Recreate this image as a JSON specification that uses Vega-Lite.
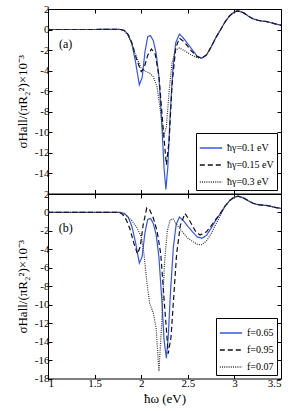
{
  "$schema": "https://vega.github.io/schema/vega-lite/v6.json",
  "autosize": {"type": "pad"},
  "padding": {"left": 15, "top": 2, "right": 0, "bottom": 0},
  "bounds": "flush",
  "spacing": 0,
  "config": {
    "font": "Liberation Serif",
    "view": {"stroke": "black", "strokeWidth": 1},
    "axis": {"grid": false, "domain": false, "tickSize": -4, "tickColor": "black", "labelColor": "black", "labelFontSize": 11, "labelPadding": 3, "titleFontSize": 13, "titleFontWeight": "normal", "titleColor": "black", "labelFont": "Liberation Serif", "titleFont": "Liberation Serif"},
    "legend": {"orient": "bottom-right", "offset": 4, "strokeColor": "black", "fillColor": "white", "padding": 3, "symbolType": "stroke", "symbolSize": 500, "symbolStrokeWidth": 1.4, "labelFontSize": 10, "labelFont": "Liberation Serif", "labelColor": "black", "rowPadding": 0, "cornerRadius": 0}
  },
  "vconcat": [
    {
      "width": 233,
      "height": 184.5,
      "data": {"values": [
        {"s":"ħγ=0.1 eV","x":1.0,"y":0},{"s":"ħγ=0.1 eV","x":1.5,"y":0},{"s":"ħγ=0.1 eV","x":1.7,"y":0.02},{"s":"ħγ=0.1 eV","x":1.78,"y":0},{"s":"ħγ=0.1 eV","x":1.82,"y":-0.1},{"s":"ħγ=0.1 eV","x":1.86,"y":-0.5},{"s":"ħγ=0.1 eV","x":1.9,"y":-1.4},{"s":"ħγ=0.1 eV","x":1.94,"y":-3.2},{"s":"ħγ=0.1 eV","x":1.98,"y":-5.4},{"s":"ħγ=0.1 eV","x":2.01,"y":-4.7},{"s":"ħγ=0.1 eV","x":2.04,"y":-2.2},{"s":"ħγ=0.1 eV","x":2.07,"y":-0.7},{"s":"ħγ=0.1 eV","x":2.1,"y":-0.6},{"s":"ħγ=0.1 eV","x":2.13,"y":-1.1},{"s":"ħγ=0.1 eV","x":2.16,"y":-2.3},{"s":"ħγ=0.1 eV","x":2.19,"y":-4.6},{"s":"ħγ=0.1 eV","x":2.22,"y":-9.0},{"s":"ħγ=0.1 eV","x":2.245,"y":-13.5},{"s":"ħγ=0.1 eV","x":2.265,"y":-15.6},{"s":"ħγ=0.1 eV","x":2.285,"y":-13.5},{"s":"ħγ=0.1 eV","x":2.31,"y":-8.5},{"s":"ħγ=0.1 eV","x":2.34,"y":-3.8},{"s":"ħγ=0.1 eV","x":2.37,"y":-1.3},{"s":"ħγ=0.1 eV","x":2.41,"y":-0.45},{"s":"ħγ=0.1 eV","x":2.45,"y":-0.8},{"s":"ħγ=0.1 eV","x":2.5,"y":-1.4},{"s":"ħγ=0.1 eV","x":2.55,"y":-2.0},{"s":"ħγ=0.1 eV","x":2.6,"y":-2.6},{"s":"ħγ=0.1 eV","x":2.65,"y":-2.8},{"s":"ħγ=0.1 eV","x":2.7,"y":-2.5},{"s":"ħγ=0.1 eV","x":2.75,"y":-1.7},{"s":"ħγ=0.1 eV","x":2.8,"y":-0.8},{"s":"ħγ=0.1 eV","x":2.85,"y":-0.05},{"s":"ħγ=0.1 eV","x":2.9,"y":0.75},{"s":"ħγ=0.1 eV","x":2.95,"y":1.35},{"s":"ħγ=0.1 eV","x":3.0,"y":1.72},{"s":"ħγ=0.1 eV","x":3.04,"y":1.82},{"s":"ħγ=0.1 eV","x":3.1,"y":1.62},{"s":"ħγ=0.1 eV","x":3.15,"y":1.3},{"s":"ħγ=0.1 eV","x":3.2,"y":1.05},{"s":"ħγ=0.1 eV","x":3.25,"y":0.9},{"s":"ħγ=0.1 eV","x":3.3,"y":0.82},{"s":"ħγ=0.1 eV","x":3.35,"y":0.77},{"s":"ħγ=0.1 eV","x":3.4,"y":0.65},{"s":"ħγ=0.1 eV","x":3.45,"y":0.52},{"s":"ħγ=0.1 eV","x":3.5,"y":0.42},
        {"s":"ħγ=0.15 eV","x":1.0,"y":0},{"s":"ħγ=0.15 eV","x":1.5,"y":0},{"s":"ħγ=0.15 eV","x":1.7,"y":0.02},{"s":"ħγ=0.15 eV","x":1.78,"y":0},{"s":"ħγ=0.15 eV","x":1.82,"y":-0.1},{"s":"ħγ=0.15 eV","x":1.86,"y":-0.5},{"s":"ħγ=0.15 eV","x":1.9,"y":-1.3},{"s":"ħγ=0.15 eV","x":1.95,"y":-2.9},{"s":"ħγ=0.15 eV","x":2.0,"y":-4.1},{"s":"ħγ=0.15 eV","x":2.03,"y":-3.8},{"s":"ħγ=0.15 eV","x":2.07,"y":-2.5},{"s":"ħγ=0.15 eV","x":2.11,"y":-1.9},{"s":"ħγ=0.15 eV","x":2.15,"y":-2.4},{"s":"ħγ=0.15 eV","x":2.19,"y":-4.5},{"s":"ħγ=0.15 eV","x":2.23,"y":-9.0},{"s":"ħγ=0.15 eV","x":2.27,"y":-13.2},{"s":"ħγ=0.15 eV","x":2.3,"y":-10.8},{"s":"ħγ=0.15 eV","x":2.33,"y":-5.5},{"s":"ħγ=0.15 eV","x":2.37,"y":-1.8},{"s":"ħγ=0.15 eV","x":2.41,"y":-0.85},{"s":"ħγ=0.15 eV","x":2.46,"y":-1.2},{"s":"ħγ=0.15 eV","x":2.54,"y":-2.1},{"s":"ħγ=0.15 eV","x":2.6,"y":-2.65},{"s":"ħγ=0.15 eV","x":2.65,"y":-2.8},{"s":"ħγ=0.15 eV","x":2.7,"y":-2.5},{"s":"ħγ=0.15 eV","x":2.75,"y":-1.7},{"s":"ħγ=0.15 eV","x":2.8,"y":-0.8},{"s":"ħγ=0.15 eV","x":2.85,"y":-0.05},{"s":"ħγ=0.15 eV","x":2.9,"y":0.75},{"s":"ħγ=0.15 eV","x":2.95,"y":1.35},{"s":"ħγ=0.15 eV","x":3.0,"y":1.72},{"s":"ħγ=0.15 eV","x":3.04,"y":1.82},{"s":"ħγ=0.15 eV","x":3.1,"y":1.62},{"s":"ħγ=0.15 eV","x":3.15,"y":1.3},{"s":"ħγ=0.15 eV","x":3.2,"y":1.05},{"s":"ħγ=0.15 eV","x":3.25,"y":0.9},{"s":"ħγ=0.15 eV","x":3.3,"y":0.82},{"s":"ħγ=0.15 eV","x":3.35,"y":0.77},{"s":"ħγ=0.15 eV","x":3.4,"y":0.65},{"s":"ħγ=0.15 eV","x":3.45,"y":0.52},{"s":"ħγ=0.15 eV","x":3.5,"y":0.42},
        {"s":"ħγ=0.3 eV","x":1.0,"y":0},{"s":"ħγ=0.3 eV","x":1.5,"y":0},{"s":"ħγ=0.3 eV","x":1.7,"y":0.02},{"s":"ħγ=0.3 eV","x":1.78,"y":0},{"s":"ħγ=0.3 eV","x":1.82,"y":-0.15},{"s":"ħγ=0.3 eV","x":1.86,"y":-0.6},{"s":"ħγ=0.3 eV","x":1.9,"y":-1.4},{"s":"ħγ=0.3 eV","x":1.95,"y":-2.7},{"s":"ħγ=0.3 eV","x":2.0,"y":-3.8},{"s":"ħγ=0.3 eV","x":2.05,"y":-4.1},{"s":"ħγ=0.3 eV","x":2.09,"y":-4.25},{"s":"ħγ=0.3 eV","x":2.13,"y":-4.6},{"s":"ħγ=0.3 eV","x":2.17,"y":-5.6},{"s":"ħγ=0.3 eV","x":2.2,"y":-7.5},{"s":"ħγ=0.3 eV","x":2.24,"y":-10.5},{"s":"ħγ=0.3 eV","x":2.27,"y":-9.5},{"s":"ħγ=0.3 eV","x":2.3,"y":-6.0},{"s":"ħγ=0.3 eV","x":2.33,"y":-3.3},{"s":"ħγ=0.3 eV","x":2.37,"y":-2.0},{"s":"ħγ=0.3 eV","x":2.41,"y":-1.8},{"s":"ħγ=0.3 eV","x":2.47,"y":-2.1},{"s":"ħγ=0.3 eV","x":2.54,"y":-2.5},{"s":"ħγ=0.3 eV","x":2.6,"y":-2.75},{"s":"ħγ=0.3 eV","x":2.65,"y":-2.8},{"s":"ħγ=0.3 eV","x":2.7,"y":-2.5},{"s":"ħγ=0.3 eV","x":2.75,"y":-1.7},{"s":"ħγ=0.3 eV","x":2.8,"y":-0.8},{"s":"ħγ=0.3 eV","x":2.85,"y":-0.05},{"s":"ħγ=0.3 eV","x":2.9,"y":0.75},{"s":"ħγ=0.3 eV","x":2.95,"y":1.35},{"s":"ħγ=0.3 eV","x":3.0,"y":1.72},{"s":"ħγ=0.3 eV","x":3.04,"y":1.82},{"s":"ħγ=0.3 eV","x":3.1,"y":1.62},{"s":"ħγ=0.3 eV","x":3.15,"y":1.3},{"s":"ħγ=0.3 eV","x":3.2,"y":1.05},{"s":"ħγ=0.3 eV","x":3.25,"y":0.9},{"s":"ħγ=0.3 eV","x":3.3,"y":0.82},{"s":"ħγ=0.3 eV","x":3.35,"y":0.77},{"s":"ħγ=0.3 eV","x":3.4,"y":0.65},{"s":"ħγ=0.3 eV","x":3.45,"y":0.52},{"s":"ħγ=0.3 eV","x":3.5,"y":0.42}
      ]},
      "layer": [
        {
          "mark": {"type": "line", "strokeWidth": 1.2, "clip": true},
          "encoding": {
            "x": {"field": "x", "type": "quantitative", "scale": {"domain": [1, 3.5], "nice": false}, "axis": {"orient": "bottom", "values": [1, 1.5, 2, 2.5, 3, 3.5], "labels": false, "title": null}},
            "y": {"field": "y", "type": "quantitative", "scale": {"domain": [-16, 2], "nice": false}, "axis": {"values": [-14, -12, -10, -8, -6, -4, -2, 0, 2], "labelExpr": "toString(datum.value)", "title": "σHall/(πR₂²)×10⁻³", "titlePadding": 5}},
            "color": {"field": "s", "type": "nominal", "scale": {"domain": ["ħγ=0.1 eV", "ħγ=0.15 eV", "ħγ=0.3 eV"], "range": ["#3355ee", "#111111", "#333333"]}, "legend": {"title": null}},
            "strokeDash": {"field": "s", "type": "nominal", "scale": {"domain": ["ħγ=0.1 eV", "ħγ=0.15 eV", "ħγ=0.3 eV"], "range": [[1, 0], [5, 3], [1, 1.2]]}, "legend": {"title": null}}
          }
        },
        {
          "data": {"values": [{"x": 1.19, "y": -1.4, "t": "(a)"}]},
          "mark": {"type": "text", "fontSize": 12, "font": "Liberation Serif", "color": "black"},
          "encoding": {
            "x": {"field": "x", "type": "quantitative", "axis": null},
            "y": {"field": "y", "type": "quantitative", "axis": null},
            "text": {"field": "t"}
          }
        },
        {
          "mark": {"type": "point", "opacity": 0},
          "encoding": {
            "x": {"field": "x", "type": "quantitative", "axis": {"orient": "top", "values": [1, 1.5, 2, 2.5, 3, 3.5], "labels": false, "title": null}},
            "y": {"field": "y", "type": "quantitative", "axis": {"orient": "right", "values": [-14, -12, -10, -8, -6, -4, -2, 0, 2], "labels": false, "title": null}}
          }
        }
      ],
      "resolve": {"axis": {"x": "independent", "y": "independent"}}
    },
    {
      "width": 233,
      "height": 184.5,
      "data": {"values": [
        {"s":"f=0.65","x":1.0,"y":0},{"s":"f=0.65","x":1.5,"y":0},{"s":"f=0.65","x":1.7,"y":0.02},{"s":"f=0.65","x":1.78,"y":0},{"s":"f=0.65","x":1.82,"y":-0.1},{"s":"f=0.65","x":1.86,"y":-0.5},{"s":"f=0.65","x":1.9,"y":-1.5},{"s":"f=0.65","x":1.94,"y":-3.3},{"s":"f=0.65","x":1.98,"y":-5.5},{"s":"f=0.65","x":2.01,"y":-4.8},{"s":"f=0.65","x":2.04,"y":-2.2},{"s":"f=0.65","x":2.07,"y":-0.75},{"s":"f=0.65","x":2.1,"y":-0.65},{"s":"f=0.65","x":2.13,"y":-1.2},{"s":"f=0.65","x":2.16,"y":-2.4},{"s":"f=0.65","x":2.19,"y":-4.8},{"s":"f=0.65","x":2.22,"y":-9.3},{"s":"f=0.65","x":2.245,"y":-13.8},{"s":"f=0.65","x":2.27,"y":-15.8},{"s":"f=0.65","x":2.29,"y":-13.5},{"s":"f=0.65","x":2.315,"y":-8.5},{"s":"f=0.65","x":2.345,"y":-3.8},{"s":"f=0.65","x":2.375,"y":-1.3},{"s":"f=0.65","x":2.41,"y":-0.5},{"s":"f=0.65","x":2.45,"y":-0.85},{"s":"f=0.65","x":2.5,"y":-1.5},{"s":"f=0.65","x":2.55,"y":-2.1},{"s":"f=0.65","x":2.6,"y":-2.65},{"s":"f=0.65","x":2.65,"y":-2.8},{"s":"f=0.65","x":2.7,"y":-2.5},{"s":"f=0.65","x":2.75,"y":-1.7},{"s":"f=0.65","x":2.8,"y":-0.85},{"s":"f=0.65","x":2.85,"y":-0.1},{"s":"f=0.65","x":2.9,"y":0.7},{"s":"f=0.65","x":2.95,"y":1.3},{"s":"f=0.65","x":3.0,"y":1.66},{"s":"f=0.65","x":3.04,"y":1.76},{"s":"f=0.65","x":3.1,"y":1.56},{"s":"f=0.65","x":3.15,"y":1.25},{"s":"f=0.65","x":3.2,"y":1.0},{"s":"f=0.65","x":3.25,"y":0.86},{"s":"f=0.65","x":3.3,"y":0.8},{"s":"f=0.65","x":3.35,"y":0.75},{"s":"f=0.65","x":3.4,"y":0.63},{"s":"f=0.65","x":3.45,"y":0.52},{"s":"f=0.65","x":3.5,"y":0.45},
        {"s":"f=0.95","x":1.0,"y":0},{"s":"f=0.95","x":1.5,"y":0},{"s":"f=0.95","x":1.7,"y":0.02},{"s":"f=0.95","x":1.76,"y":0},{"s":"f=0.95","x":1.8,"y":-0.2},{"s":"f=0.95","x":1.84,"y":-0.8},{"s":"f=0.95","x":1.88,"y":-1.8},{"s":"f=0.95","x":1.92,"y":-3.3},{"s":"f=0.95","x":1.96,"y":-4.5},{"s":"f=0.95","x":1.99,"y":-3.7},{"s":"f=0.95","x":2.02,"y":-1.4},{"s":"f=0.95","x":2.06,"y":0.5},{"s":"f=0.95","x":2.09,"y":0.3},{"s":"f=0.95","x":2.13,"y":-0.6},{"s":"f=0.95","x":2.17,"y":-2.0},{"s":"f=0.95","x":2.21,"y":-4.5},{"s":"f=0.95","x":2.25,"y":-10.0},{"s":"f=0.95","x":2.29,"y":-15.3},{"s":"f=0.95","x":2.32,"y":-13.5},{"s":"f=0.95","x":2.35,"y":-9.0},{"s":"f=0.95","x":2.38,"y":-4.5},{"s":"f=0.95","x":2.42,"y":-1.4},{"s":"f=0.95","x":2.47,"y":-0.1},{"s":"f=0.95","x":2.52,"y":-0.9},{"s":"f=0.95","x":2.58,"y":-2.0},{"s":"f=0.95","x":2.63,"y":-2.45},{"s":"f=0.95","x":2.7,"y":-2.1},{"s":"f=0.95","x":2.75,"y":-1.45},{"s":"f=0.95","x":2.8,"y":-0.75},{"s":"f=0.95","x":2.85,"y":-0.1},{"s":"f=0.95","x":2.9,"y":0.7},{"s":"f=0.95","x":2.95,"y":1.3},{"s":"f=0.95","x":3.0,"y":1.66},{"s":"f=0.95","x":3.04,"y":1.76},{"s":"f=0.95","x":3.1,"y":1.56},{"s":"f=0.95","x":3.15,"y":1.25},{"s":"f=0.95","x":3.2,"y":1.0},{"s":"f=0.95","x":3.25,"y":0.86},{"s":"f=0.95","x":3.3,"y":0.8},{"s":"f=0.95","x":3.35,"y":0.75},{"s":"f=0.95","x":3.4,"y":0.63},{"s":"f=0.95","x":3.45,"y":0.52},{"s":"f=0.95","x":3.5,"y":0.45},
        {"s":"f=0.07","x":1.0,"y":0},{"s":"f=0.07","x":1.5,"y":0},{"s":"f=0.07","x":1.7,"y":0.02},{"s":"f=0.07","x":1.76,"y":0},{"s":"f=0.07","x":1.8,"y":-0.1},{"s":"f=0.07","x":1.85,"y":-0.4},{"s":"f=0.07","x":1.9,"y":-0.9},{"s":"f=0.07","x":1.95,"y":-1.6},{"s":"f=0.07","x":2.0,"y":-2.6},{"s":"f=0.07","x":2.03,"y":-4.5},{"s":"f=0.07","x":2.06,"y":-7.5},{"s":"f=0.07","x":2.09,"y":-9.8},{"s":"f=0.07","x":2.13,"y":-10.9},{"s":"f=0.07","x":2.16,"y":-12.5},{"s":"f=0.07","x":2.19,"y":-17.2},{"s":"f=0.07","x":2.22,"y":-12.0},{"s":"f=0.07","x":2.25,"y":-5.5},{"s":"f=0.07","x":2.28,"y":-2.0},{"s":"f=0.07","x":2.31,"y":-0.8},{"s":"f=0.07","x":2.34,"y":-0.7},{"s":"f=0.07","x":2.4,"y":-1.6},{"s":"f=0.07","x":2.5,"y":-2.8},{"s":"f=0.07","x":2.6,"y":-3.45},{"s":"f=0.07","x":2.65,"y":-3.5},{"s":"f=0.07","x":2.7,"y":-3.1},{"s":"f=0.07","x":2.75,"y":-2.3},{"s":"f=0.07","x":2.8,"y":-1.3},{"s":"f=0.07","x":2.85,"y":-0.3},{"s":"f=0.07","x":2.9,"y":0.65},{"s":"f=0.07","x":2.95,"y":1.3},{"s":"f=0.07","x":3.0,"y":1.66},{"s":"f=0.07","x":3.04,"y":1.76},{"s":"f=0.07","x":3.1,"y":1.56},{"s":"f=0.07","x":3.15,"y":1.25},{"s":"f=0.07","x":3.2,"y":1.0},{"s":"f=0.07","x":3.25,"y":0.86},{"s":"f=0.07","x":3.3,"y":0.8},{"s":"f=0.07","x":3.35,"y":0.75},{"s":"f=0.07","x":3.4,"y":0.63},{"s":"f=0.07","x":3.45,"y":0.52},{"s":"f=0.07","x":3.5,"y":0.45}
      ]},
      "layer": [
        {
          "mark": {"type": "line", "strokeWidth": 1.2, "clip": true},
          "encoding": {
            "x": {"field": "x", "type": "quantitative", "scale": {"domain": [1, 3.5], "nice": false}, "axis": {"orient": "bottom", "values": [1, 1.5, 2, 2.5, 3, 3.5], "labelExpr": "toString(datum.value)", "title": "ħω (eV)", "titlePadding": 4}},
            "y": {"field": "y", "type": "quantitative", "scale": {"domain": [-18, 2], "nice": false}, "axis": {"values": [-18, -16, -14, -12, -10, -8, -6, -4, -2, 0, 2], "labelExpr": "toString(datum.value)", "title": "σHall/(πR₂²)×10⁻³", "titlePadding": 5}},
            "color": {"field": "s", "type": "nominal", "scale": {"domain": ["f=0.65", "f=0.95", "f=0.07"], "range": ["#3355ee", "#111111", "#333333"]}, "legend": {"title": null}},
            "strokeDash": {"field": "s", "type": "nominal", "scale": {"domain": ["f=0.65", "f=0.95", "f=0.07"], "range": [[1, 0], [5, 3], [1, 1.2]]}, "legend": {"title": null}}
          }
        },
        {
          "data": {"values": [{"x": 1.19, "y": -1.7, "t": "(b)"}]},
          "mark": {"type": "text", "fontSize": 12, "font": "Liberation Serif", "color": "black"},
          "encoding": {
            "x": {"field": "x", "type": "quantitative", "axis": null},
            "y": {"field": "y", "type": "quantitative", "axis": null},
            "text": {"field": "t"}
          }
        },
        {
          "mark": {"type": "point", "opacity": 0},
          "encoding": {
            "x": {"field": "x", "type": "quantitative", "axis": {"orient": "top", "values": [1, 1.5, 2, 2.5, 3, 3.5], "labels": false, "title": null}},
            "y": {"field": "y", "type": "quantitative", "axis": {"orient": "right", "values": [-18, -16, -14, -12, -10, -8, -6, -4, -2, 0, 2], "labels": false, "title": null}}
          }
        }
      ],
      "resolve": {"axis": {"x": "independent", "y": "independent"}}
    }
  ],
  "resolve": {"scale": {"color": "independent", "strokeDash": "independent"}}
}
